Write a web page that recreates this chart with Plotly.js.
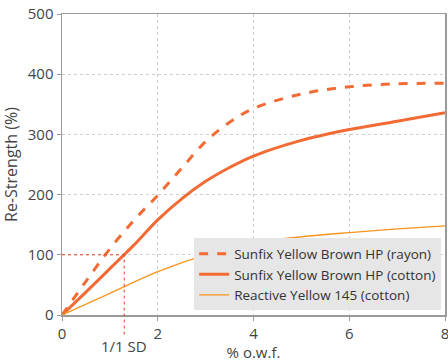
<!DOCTYPE html>
<html><head><meta charset="utf-8">
<script src="https://cdn.plot.ly/plotly-3.0.1.min.js"></script>
<style>html,body{margin:0;padding:0;background:#fff}#c{width:448px;height:362px}</style>
</head><body><div id="c"></div>
<script>
const xRayon = [0, 0.5, 1, 1.5, 2, 2.5, 3, 3.5, 4, 5, 6, 7, 8];
const yRayon = [0, 56, 110, 157, 199, 244, 288, 320, 343, 367, 379, 384, 385];
const xCotton = [0, 0.5, 1, 1.5, 2, 2.5, 3, 3.5, 4, 5, 6, 7, 8];
const yCotton = [0, 38, 77, 116, 158, 193, 222, 245, 264, 290, 308, 322, 336];
const xReactive = [0, 1, 2, 3, 4, 5, 6, 7, 8];
const yReactive = [0, 36, 72, 100, 120, 130, 137, 143, 148];
const names = ["Sunfix Yellow Brown HP (rayon)", "Sunfix Yellow Brown HP (cotton)", "Reactive Yellow 145 (cotton)"];
const sdX = 1.3, sdY = 100;

const font = "Open Sans, Noto Sans, sans-serif";
const traces = [
  {x: xRayon, y: yRayon, name: names[0], mode: "lines", line: {color: "#f26b35", width: 3, dash: "dash", shape: "spline", smoothing: 1}},
  {x: xCotton, y: yCotton, name: names[1], mode: "lines", line: {color: "#f26b35", width: 3, shape: "spline", smoothing: 1}},
  {x: xReactive, y: yReactive, name: names[2], mode: "lines", line: {color: "#f7941d", width: 1.3, shape: "spline", smoothing: 1}}
];
const layout = {
  width: 448, height: 362,
  margin: {l: 62, r: 3, t: 14, b: 47},
  paper_bgcolor: "#fff", plot_bgcolor: "#fff",
  font: {family: font, color: "#444", size: 14},
  showlegend: true,
  legend: {x: 0.99, xanchor: "right", y: 0.015, yanchor: "bottom", bgcolor: "#e6e6e6",
    font: {size: 13.5, color: "#333", family: font}, tracegroupgap: 0, itemwidth: 30,
    borderwidth: 0},
  xaxis: {range: [0, 8], tickvals: [0, 2, 4, 6, 8], showline: true, mirror: true, linecolor: "#9a9a9a", linewidth: 1.5,
    ticks: "outside", ticklen: 4, tickcolor: "#9a9a9a", showgrid: true, gridcolor: "#cfcfcf", griddash: "dot",
    zeroline: false, tickfont: {size: 15, color: "#444"}, ticklabeloverflow: "allow",
    title: {text: "% o.w.f.", font: {size: 15, color: "#444"}, standoff: 27}},
  yaxis: {range: [0, 500], tickvals: [0, 100, 200, 300, 400, 500], showline: true, mirror: true, linecolor: "#9a9a9a", linewidth: 1.5,
    ticks: "outside", ticklen: 4, tickcolor: "#9a9a9a", showgrid: true, gridcolor: "#cfcfcf", griddash: "dot",
    zeroline: false, tickfont: {size: 15, color: "#444"},
    title: {text: "Re-Strength (%)", font: {size: 16, color: "#444"}, standoff: 8}},
  shapes: [
    {type: "line", xref: "x", yref: "y", x0: 0, x1: sdX, y0: sdY, y1: sdY, line: {color: "#e8402a", width: 1, dash: "dot"}},
    {type: "line", xref: "x", yref: "paper", x0: sdX, x1: sdX, y0: -0.065, y1: sdY / 500, line: {color: "#e8402a", width: 1, dash: "dot"}}
  ],
  annotations: [
    {x: sdX, xref: "x", y: -0.062, yref: "paper", yanchor: "top", text: "1/1 SD", showarrow: false, font: {size: 15, color: "#444"}}
  ]
};
Plotly.newPlot("c", traces, layout, {displayModeBar: false, staticPlot: true});
</script></body></html>
